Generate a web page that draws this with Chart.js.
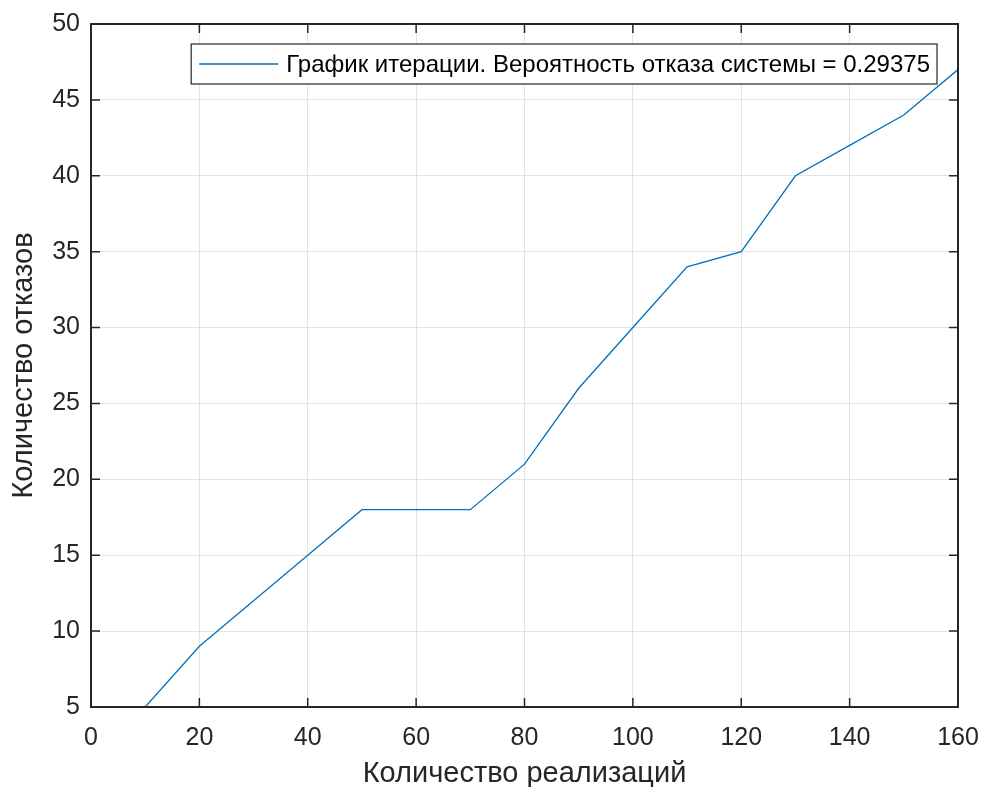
<!DOCTYPE html>
<html>
<head>
<meta charset="utf-8">
<script src="https://cdn.jsdelivr.net/npm/chart.js@4/dist/chart.umd.min.js"></script>
<style>
html,body{margin:0;padding:0;background:#fff;}
#wrap{width:982px;height:787px;position:relative;}
</style>
</head>
<body>
<div id="wrap"><canvas id="c" width="982" height="787"></canvas></div>
<script>
const realizations = [10, 20, 30, 40, 50, 60, 70, 80, 90, 100, 110, 120, 130, 140, 150, 160];
const failures = [5, 9, 12, 15, 18, 18, 18, 21, 26, 30, 34, 35, 40, 42, 44, 47];
const seriesLabel = 'График итерации. Вероятность отказа системы = 0.29375';
const xTitle = 'Количество реализаций';
const yTitle = 'Количество отказов';

const FONT = '"Liberation Sans", Arial, Helvetica, sans-serif';
const AXIS = '#262626';
const GRID = '#e3e3e3';
const LINE = '#0072BD';

const boxPlugin = {
  id: 'matlabBox',
  afterDatasetsDraw(chart) {
    const {ctx, chartArea: a, scales} = chart;
    ctx.save();
    ctx.strokeStyle = AXIS;
    ctx.lineWidth = 1.5;
    const tl = 9;
    ctx.beginPath();
    scales.x.ticks.forEach(t => {
      const px = scales.x.getPixelForValue(t.value);
      ctx.moveTo(px, a.bottom); ctx.lineTo(px, a.bottom - tl);
      ctx.moveTo(px, a.top); ctx.lineTo(px, a.top + tl);
    });
    scales.y.ticks.forEach(t => {
      const py = scales.y.getPixelForValue(t.value);
      ctx.moveTo(a.left, py); ctx.lineTo(a.left + tl, py);
      ctx.moveTo(a.right, py); ctx.lineTo(a.right - tl, py);
    });
    ctx.stroke();
    ctx.lineWidth = 2;
    ctx.strokeRect(a.left, a.top, a.right - a.left, a.bottom - a.top);

    // legend
    const ds = chart.data.datasets[0];
    ctx.font = '24px ' + FONT;
    const tw = ctx.measureText(ds.label).width;
    const lineLen = 79, gap1 = 8, gap2 = 8, padR = 7;
    const w = gap1 + lineLen + gap2 + tw + padR;
    const bx = a.right - 21 - w, by = 44, bh = 40;
    ctx.fillStyle = '#fff';
    ctx.fillRect(bx, by, w, bh);
    ctx.lineWidth = 1.2;
    ctx.strokeStyle = AXIS;
    ctx.strokeRect(bx, by, w, bh);
    ctx.strokeStyle = LINE;
    ctx.lineWidth = 1.3;
    ctx.beginPath();
    ctx.moveTo(bx + gap1, by + bh / 2);
    ctx.lineTo(bx + gap1 + lineLen, by + bh / 2);
    ctx.stroke();
    ctx.fillStyle = '#000';
    ctx.textBaseline = 'middle';
    ctx.textAlign = 'left';
    ctx.fillText(ds.label, bx + gap1 + lineLen + gap2, by + bh / 2 + 1);
    ctx.restore();
  }
};

new Chart(document.getElementById('c'), {
  type: 'line',
  data: {
    datasets: [{
      label: seriesLabel,
      data: realizations.map((x, i) => ({x, y: failures[i]})),
      borderColor: LINE,
      borderWidth: 1.3,
      pointRadius: 0,
      tension: 0,
      fill: false
    }]
  },
  options: {
    responsive: false,
    animation: false,
    devicePixelRatio: 1,
    layout: {padding: {top: 24, right: 24, left: 0, bottom: 0}},
    plugins: {legend: {display: false}, tooltip: {enabled: false}},
    scales: {
      x: {
        type: 'linear', min: 0, max: 160,
        ticks: {stepSize: 20, color: AXIS, padding: 16, font: {family: FONT, size: 25}, maxRotation: 0},
        grid: {color: GRID, drawTicks: false, lineWidth: 1},
        border: {display: false},
        title: {display: true, text: xTitle, color: AXIS, font: {family: FONT, size: 29}, padding: {top: 0, bottom: -4}},
        afterFit(s) { s.height = 80; s.paddingLeft = 0; s.paddingRight = 0; }
      },
      y: {
        type: 'linear', min: 5, max: 50,
        ticks: {stepSize: 5, color: AXIS, padding: 11, font: {family: FONT, size: 25}},
        grid: {color: GRID, drawTicks: false, lineWidth: 1},
        border: {display: false},
        title: {display: true, text: yTitle, color: AXIS, font: {family: FONT, size: 29}, padding: {top: 7, bottom: 0}},
        afterFit(s) { s.width = 91; s.paddingTop = 0; s.paddingBottom = 0; }
      }
    }
  },
  plugins: [boxPlugin]
});
</script>
</body>
</html>
